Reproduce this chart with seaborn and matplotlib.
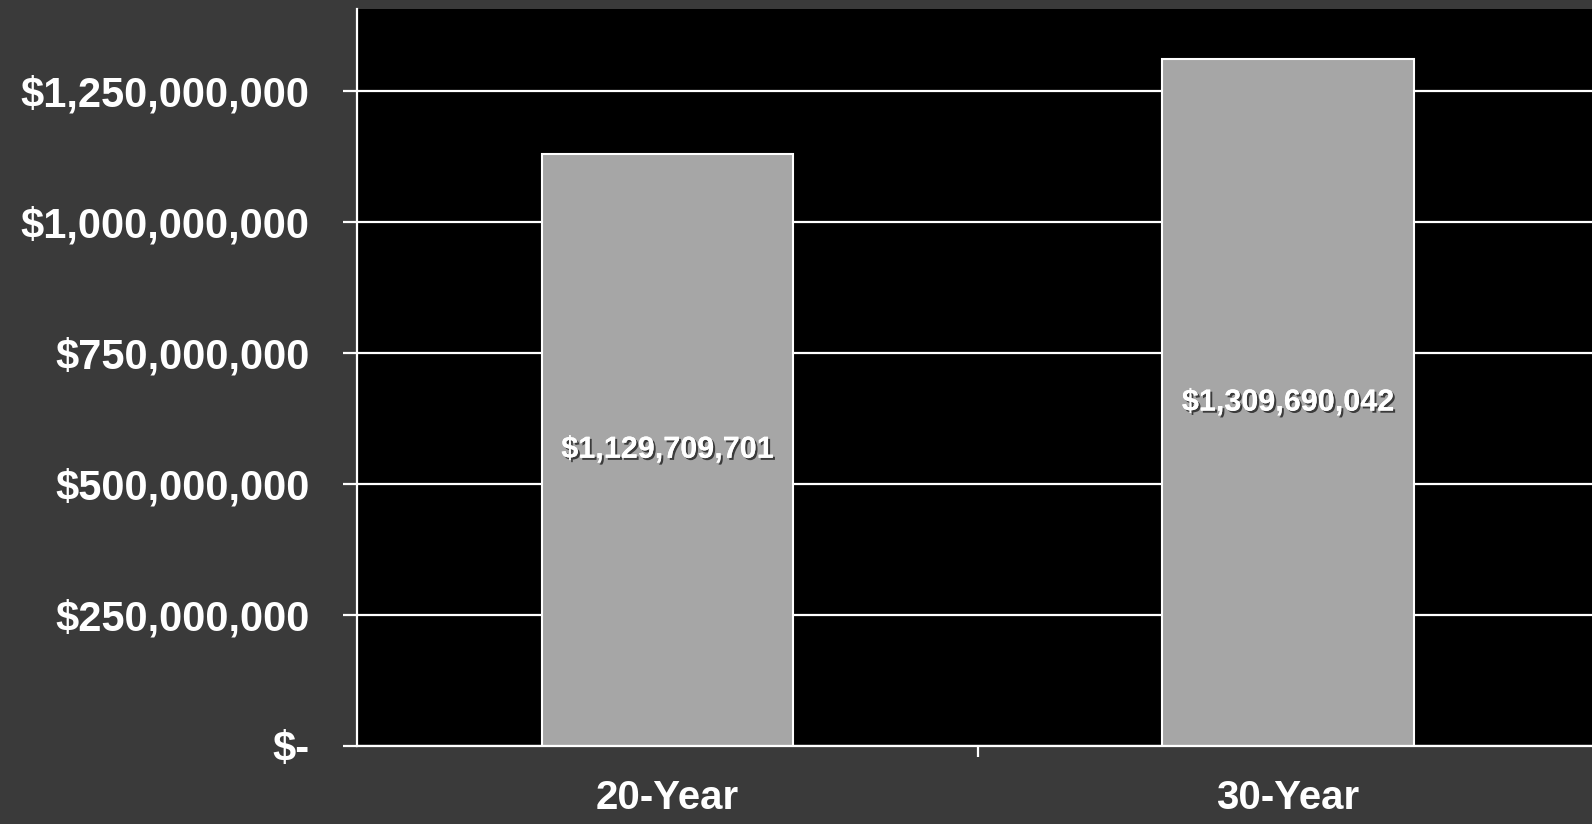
import matplotlib
matplotlib.use("Agg")
import matplotlib.pyplot as plt
import matplotlib.patheffects as pe
from matplotlib.ticker import FuncFormatter, FixedLocator
import seaborn as sns
import pandas as pd

categories = ["20-Year", "30-Year"]
values = [1129709701, 1309690042]
value_labels = ["$1,129,709,701", "$1,309,690,042"]
yticks = [0, 250000000, 500000000, 750000000, 1000000000, 1250000000]

sns.set_theme(style="dark")
plt.rcParams['font.family'] = ['Liberation Sans', 'DejaVu Sans']

df = pd.DataFrame({"term": categories, "value": values})

fig = plt.figure(figsize=(15.92, 8.24), dpi=100, facecolor="#3a3a3a")
ax = fig.add_axes([0.2243, 0.0947, 0.7757, 0.894])
ax.set_facecolor("black")

sns.barplot(data=df, x="term", y="value", color="#a6a6a6", edgecolor="white",
            linewidth=1.5, width=0.405, saturation=1, ax=ax, zorder=3)

ax.set_xlim(-0.5, 1.49)
ax.set_ylim(0, 1.405e9)
ax.set_yticks(yticks)

def fmt(v, pos):
    if v == 0:
        return "$-"
    return "${:,.0f}".format(v)
ax.yaxis.set_major_formatter(FuncFormatter(fmt))

ax.grid(False)
ax.yaxis.grid(True, color="white", linewidth=1.6, zorder=1)
ax.set_axisbelow(True)

for s in ["top", "right"]:
    ax.spines[s].set_visible(False)
for s in ["left", "bottom"]:
    ax.spines[s].set_visible(True)
    ax.spines[s].set_color("white")
    ax.spines[s].set_linewidth(1.6)
    ax.spines[s].set_zorder(4)

ax.tick_params(axis="y", which="major", length=10, width=1.6, color="white",
               direction="out", pad=24, labelsize=30, labelcolor="white", left=True)
ax.tick_params(axis="x", which="major", length=0, pad=24, labelsize=29,
               labelcolor="white", bottom=True)
ax.xaxis.set_minor_locator(FixedLocator([0.5]))
ax.tick_params(axis="x", which="minor", length=8, width=1.6, color="white",
               direction="out", bottom=True)

for lab in ax.get_yticklabels() + ax.get_xticklabels():
    lab.set_fontweight("bold")

ax.set_xlabel("")
ax.set_ylabel("")

for i, (v, t) in enumerate(zip(values, value_labels)):
    ax.text(i, v / 2, t, ha="center", va="center", color="white",
            fontsize=22, fontweight="bold", zorder=5,
            path_effects=[pe.withSimplePatchShadow(offset=(1.5, -1.5),
                                                   shadow_rgbFace="#303030", alpha=0.9),
                          pe.Normal()])

fig.savefig("out.png", dpi=100, facecolor=fig.get_facecolor())
